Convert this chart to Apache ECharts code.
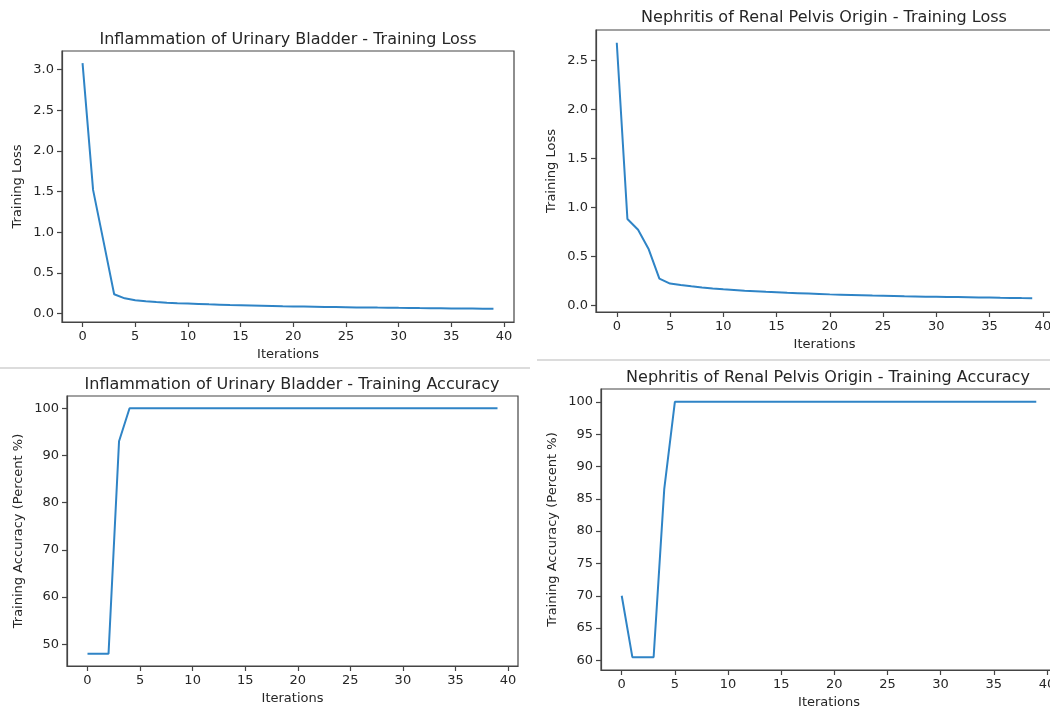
<!DOCTYPE html>
<html>
<head>
<meta charset="utf-8">
<script src="https://cdn.jsdelivr.net/npm/echarts@6/dist/echarts.min.js"></script>
<style>
  html, body { margin: 0; padding: 0; background: #fff; }
  #main { width: 1050px; height: 713px; }
</style>
</head>
<body>
<div id="main"></div>
<script>
// values, one per iteration (0..39)
var bladderLoss = [3.08, 1.52, 0.88, 0.235, 0.185, 0.163, 0.150, 0.140, 0.132, 0.126,
  0.121, 0.116, 0.111, 0.107, 0.103, 0.100, 0.097, 0.094, 0.091, 0.088,
  0.086, 0.084, 0.082, 0.080, 0.078, 0.076, 0.074, 0.073, 0.071, 0.070,
  0.068, 0.067, 0.065, 0.064, 0.063, 0.061, 0.060, 0.059, 0.058, 0.057];
var nephritisLoss = [2.68, 0.88, 0.77, 0.57, 0.27, 0.22, 0.205, 0.192, 0.181, 0.171,
  0.162, 0.155, 0.148, 0.142, 0.136, 0.131, 0.126, 0.122, 0.118, 0.114,
  0.110, 0.107, 0.104, 0.101, 0.098, 0.096, 0.094, 0.091, 0.089, 0.087,
  0.085, 0.083, 0.082, 0.080, 0.078, 0.077, 0.075, 0.074, 0.072, 0.071];
var bladderAcc = [48, 48, 48, 93, 100, 100, 100, 100, 100, 100,
  100, 100, 100, 100, 100, 100, 100, 100, 100, 100,
  100, 100, 100, 100, 100, 100, 100, 100, 100, 100,
  100, 100, 100, 100, 100, 100, 100, 100, 100, 100];
var nephritisAcc = [70, 60.5, 60.5, 60.5, 86.5, 100, 100, 100, 100, 100,
  100, 100, 100, 100, 100, 100, 100, 100, 100, 100,
  100, 100, 100, 100, 100, 100, 100, 100, 100, 100,
  100, 100, 100, 100, 100, 100, 100, 100, 100, 100];

var xTicks = [0, 5, 10, 15, 20, 25, 30, 35, 40];
var lossTicks1 = [0, 0.5, 1.0, 1.5, 2.0, 2.5, 3.0];
var lossTicks2 = [0, 0.5, 1.0, 1.5, 2.0, 2.5];
var accTicks1 = [50, 60, 70, 80, 90, 100];
var accTicks2 = [60, 65, 70, 75, 80, 85, 90, 95, 100];

var titles = [
  'Inflammation of Urinary Bladder - Training Loss',
  'Nephritis of Renal Pelvis Origin - Training Loss',
  'Inflammation of Urinary Bladder - Training Accuracy',
  'Nephritis of Renal Pelvis Origin - Training Accuracy'
];

(function () {
  var myChart = echarts.init(document.getElementById('main'));
  var font = 'DejaVu Sans';
  var ink = '#262626';
  var frame = '#444';
  var lineColor = '#2f84c6';

  // grid boxes, matplotlib-like layout (right panels run past the canvas edge)
  var boxes = [
    { left: 62, top: 51, width: 452, height: 271 },
    { left: 596, top: 30, width: 457, height: 282 },
    { left: 67, top: 396, width: 451, height: 270 },
    { left: 601, top: 389, width: 456, height: 281 }
  ];
  var titlePos = [[288, 32], [824, 10], [292, 377], [828, 370]];
  var yRange = [[-0.106, 3.23], [-0.07, 2.81], [45.4, 102.6], [58.52, 101.98]];
  var yTicks = [lossTicks1, lossTicks2, accTicks1, accTicks2];
  var yNames = ['Training Loss', 'Training Loss', 'Training Accuracy (Percent %)', 'Training Accuracy (Percent %)'];
  var yGaps = [38, 38, 42, 42];
  var yFmt = [
    function (v) { return v.toFixed(1); },
    function (v) { return v.toFixed(1); },
    function (v) { return String(Math.round(v)); },
    function (v) { return String(Math.round(v)); }
  ];
  var seriesData = [bladderLoss, nephritisLoss, bladderAcc, nephritisAcc];

  var grid = [], xAxis = [], yAxis = [], series = [], title = [];
  for (var i = 0; i < 4; i++) {
    grid.push({
      left: boxes[i].left, top: boxes[i].top,
      width: boxes[i].width, height: boxes[i].height,
      outerBoundsMode: 'none', containLabel: false,
      show: true, borderColor: frame, borderWidth: 1.2,
      backgroundColor: 'transparent'
    });
    title.push({
      text: titles[i],
      left: titlePos[i][0], top: titlePos[i][1],
      textAlign: 'center', padding: 0,
      textStyle: { fontFamily: font, fontSize: 16, fontWeight: 'normal', color: ink }
    });
    xAxis.push({
      type: 'value', gridIndex: i, min: -1.95, max: 40.95,
      name: 'Iterations', nameLocation: 'middle', nameGap: 26,
      nameTextStyle: { fontFamily: font, fontSize: 13, color: ink },
      axisLine: { show: true, onZero: false, lineStyle: { color: frame, width: 1.2 } },
      axisTick: { show: true, length: 5, customValues: xTicks, lineStyle: { color: frame, width: 1.2 } },
      axisLabel: { customValues: xTicks, margin: 8, fontFamily: font, fontSize: 13, color: ink },
      splitLine: { show: false }
    });
    yAxis.push({
      type: 'value', gridIndex: i, min: yRange[i][0], max: yRange[i][1],
      name: yNames[i], nameLocation: 'middle', nameGap: yGaps[i],
      nameTextStyle: { fontFamily: font, fontSize: 13, color: ink },
      axisLine: { show: true, onZero: false, lineStyle: { color: frame, width: 1.2 } },
      axisTick: { show: true, length: 5, customValues: yTicks[i], lineStyle: { color: frame, width: 1.2 } },
      axisLabel: { customValues: yTicks[i], margin: 8, fontFamily: font, fontSize: 13, color: ink,
        formatter: yFmt[i] },
      splitLine: { show: false }
    });
    series.push({
      type: 'line', xAxisIndex: i, yAxisIndex: i,
      showSymbol: false, symbol: 'none',
      lineStyle: { color: lineColor, width: 2 },
      data: seriesData[i].map(function (v, k) { return [k, v]; })
    });
  }

  var option = {
    animation: false,
    backgroundColor: '#fff',
    title: title,
    grid: grid,
    xAxis: xAxis,
    yAxis: yAxis,
    series: series,
    graphic: [
      { type: 'line', shape: { x1: 0, y1: 368, x2: 530, y2: 368 }, style: { stroke: '#dcdcdc', lineWidth: 2 } },
      { type: 'line', shape: { x1: 537, y1: 360, x2: 1050, y2: 360 }, style: { stroke: '#dcdcdc', lineWidth: 2 } }
    ]
  };
  myChart.setOption(option);
})();
</script>
</body>
</html>
